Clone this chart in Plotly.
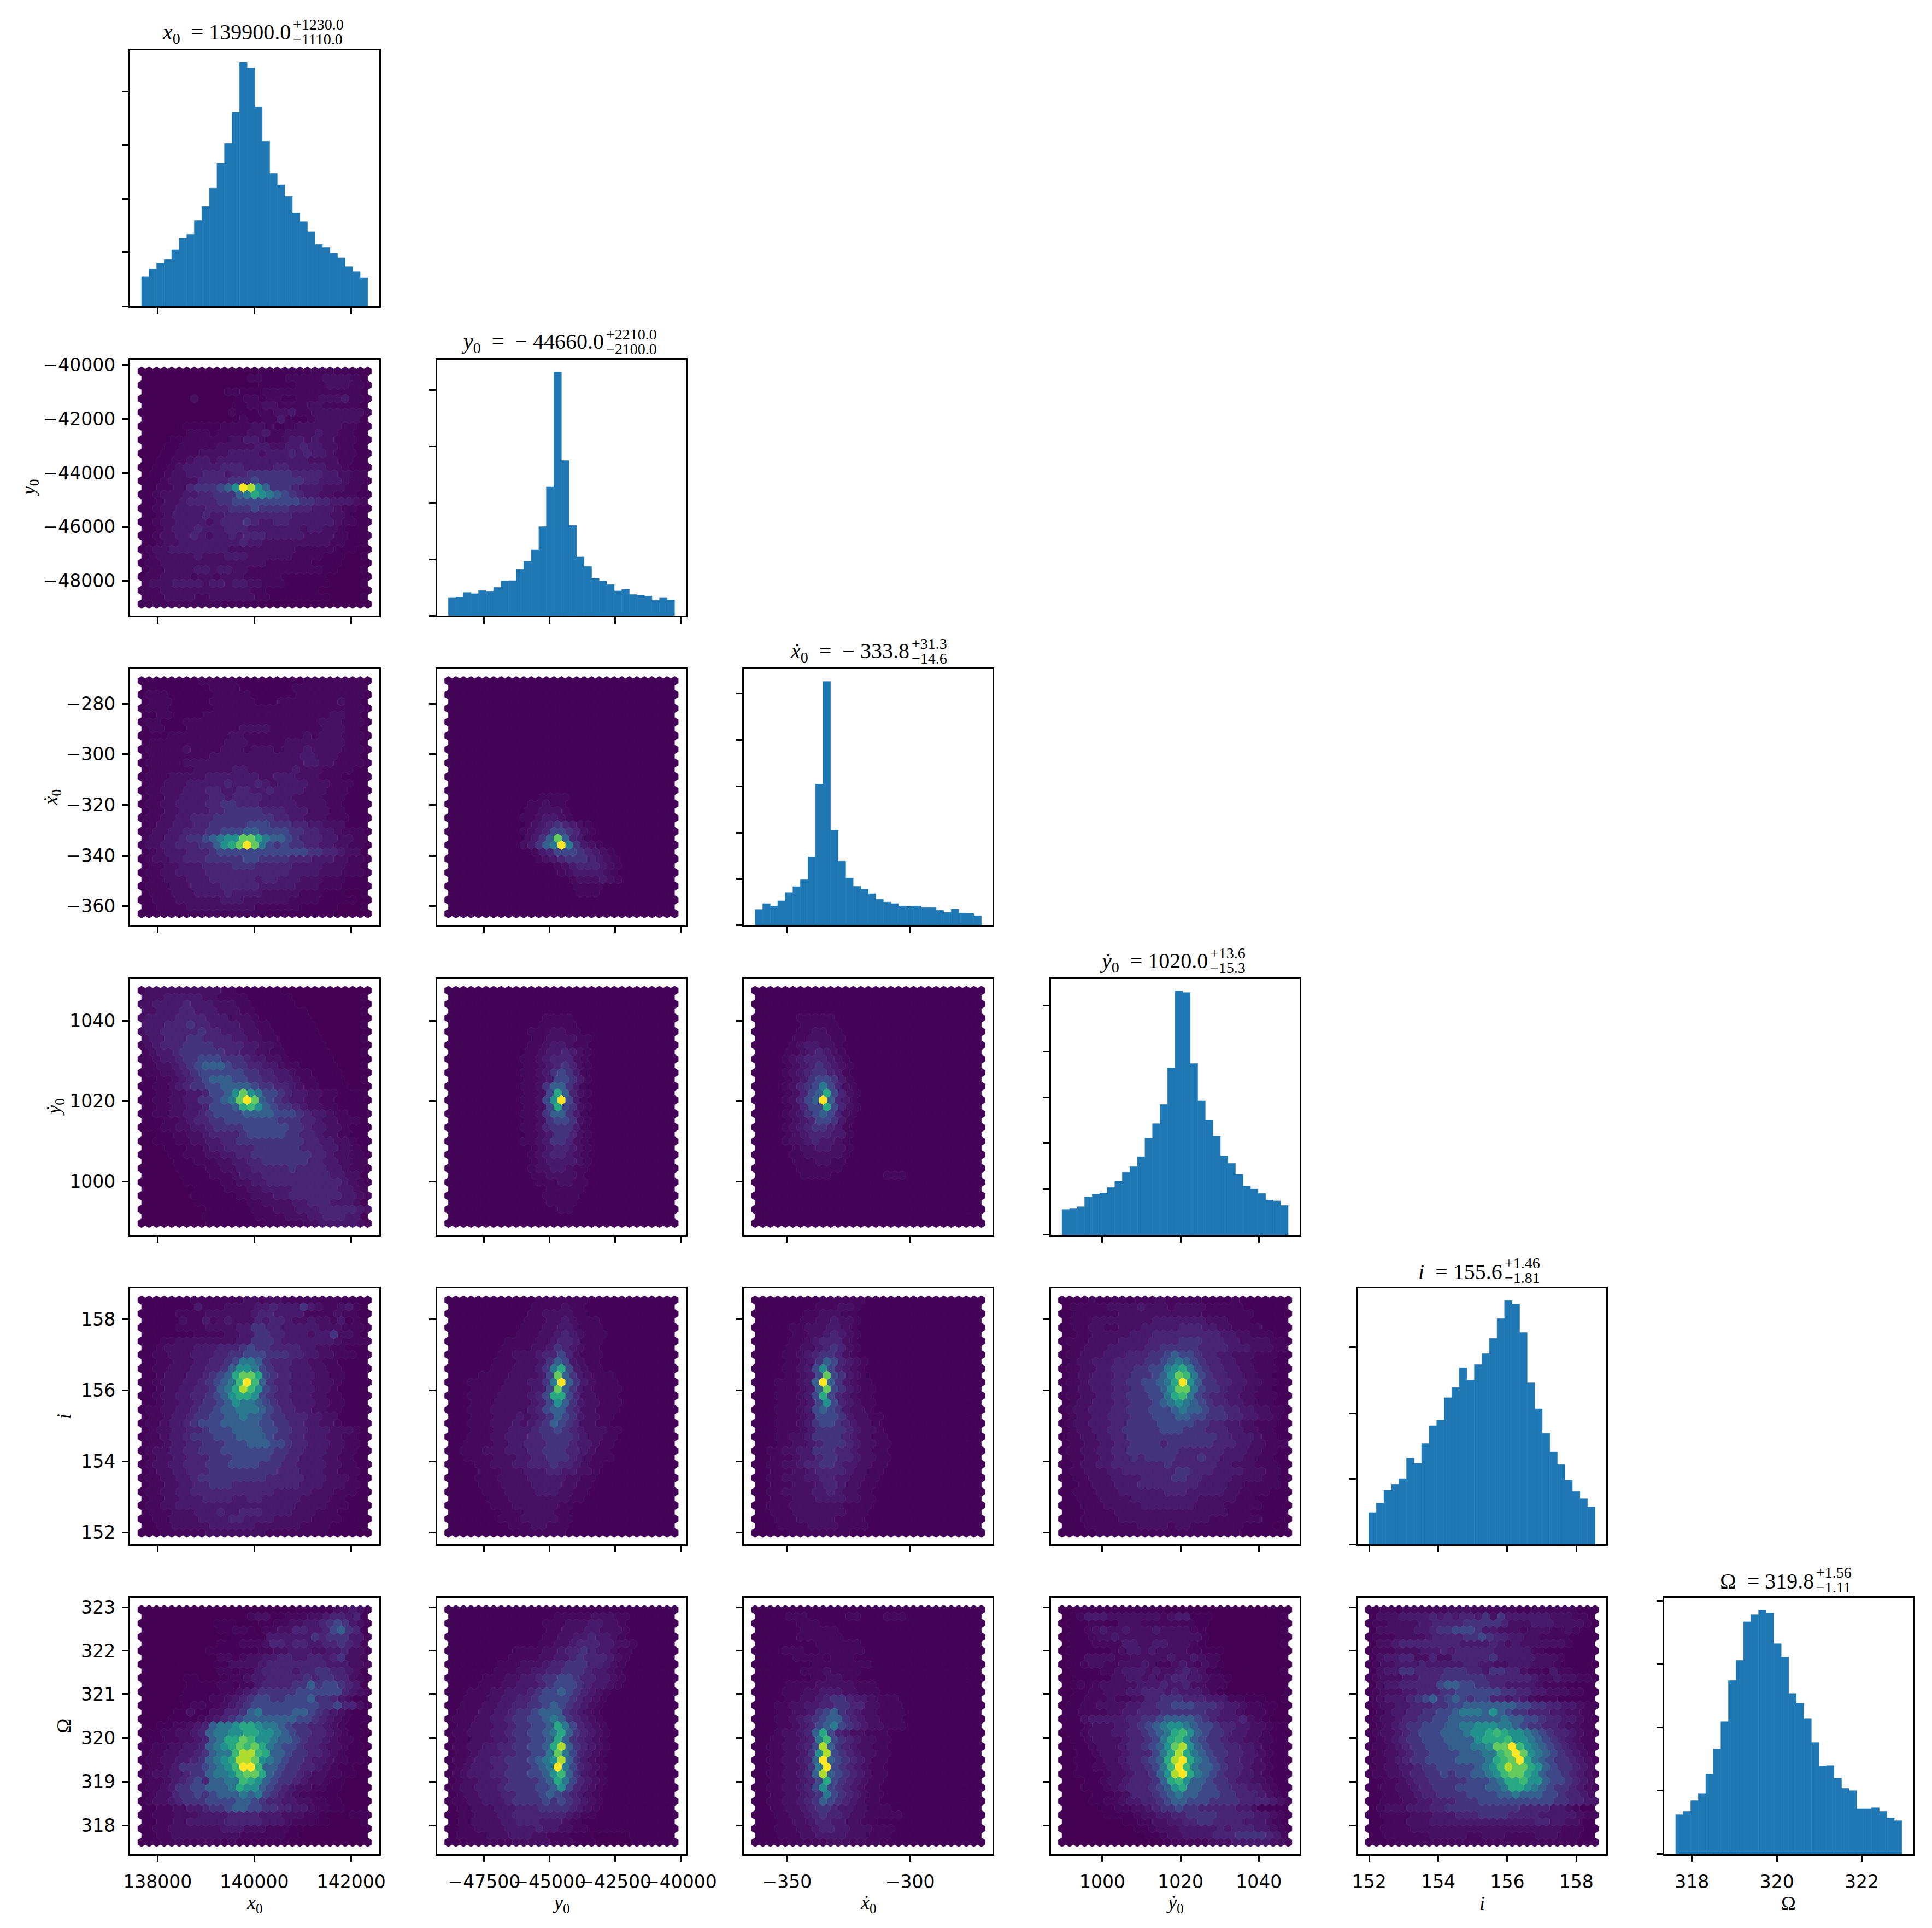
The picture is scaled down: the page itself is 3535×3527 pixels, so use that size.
import plotly.graph_objects as go
from plotly.colors import sample_colorscale

W, H = 3535, 3527
PARAMS = ["x0", "y0", "xd", "yd", "i", "om"]
AXIS_RANGE = {"x0": [137435, 142573], "y0": [-49297, -39804], "xd": [-367.5, -266.45],
              "yd": [986.8, 1050.4], "i": [151.66, 158.87], "om": [317.35, 323.21]}
X_TICKS = {"x0": [138000, 140000, 142000], "y0": [-47500, -45000, -42500, -40000], "xd": [-350, -300],
           "yd": [1000, 1020, 1040], "i": [152, 154, 156, 158], "om": [318, 320, 322]}
Y_TICKS = {"y0": [-48000, -46000, -44000, -42000, -40000], "xd": [-360, -340, -320, -300, -280],
           "yd": [1000, 1020, 1040], "i": [152, 154, 156, 158], "om": [318, 319, 320, 321, 322, 323]}
LABELS = {"x0": "<i>x</i><sub>0</sub>", "y0": "<i>y</i><sub>0</sub>", "xd": "<i>ẋ</i><sub>0</sub>",
          "yd": "<i>ẏ</i><sub>0</sub>", "i": "<i>i</i>", "om": "Ω"}
YLABEL_X = {"y0": 54, "xd": 95, "yd": 101, "i": 117, "om": 117}
TITLE_MAIN = {"x0": "<i>x</i><sub>0</sub>\u2002= 139900.0", "y0": "<i>y</i><sub>0</sub>\u2002=\u2002− 44660.0",
              "xd": "<i>ẋ</i><sub>0</sub>\u2002=\u2002− 333.8", "yd": "<i>ẏ</i><sub>0</sub>\u2002= 1020.0",
              "i": "<i>i</i>\u2002= 155.6", "om": "Ω\u2002= 319.8"}
TITLE_UP = {"x0": "+1230.0", "y0": "+2210.0", "xd": "+31.3", "yd": "+13.6", "i": "+1.46", "om": "+1.56"}
TITLE_DN = {"x0": "−1110.0", "y0": "−2100.0", "xd": "−14.6", "yd": "−15.3", "i": "−1.81", "om": "−1.11"}
TITLE_MAIN_W = {"x0": 235, "y0": 256, "xd": 222, "yd": 193, "i": 149, "om": 164}
TITLE_UP_W = {"x0": 100, "y0": 99, "xd": 70, "yd": 71, "i": 72, "om": 70}

HIST_x0 = [552, 690, 797, 874, 1050, 1264, 1341, 1594, 1862, 2199, 2659, 3034, 3617, 4544, 4437, 3716, 3073, 2475, 2261, 2046, 1739, 1571, 1387, 1149, 1096, 989, 897, 736, 644, 529]
HIST_y0 = [314, 328, 412, 391, 447, 426, 503, 615, 622, 824, 964, 1166, 1578, 2291, 4323, 2751, 1599, 1041, 873, 663, 615, 552, 440, 468, 377, 363, 349, 272, 314, 279]
HIST_xd = [340, 467, 416, 526, 705, 832, 993, 1477, 3048, 5263, 2054, 1384, 1019, 840, 781, 679, 560, 501, 467, 416, 407, 416, 382, 382, 323, 280, 348, 263, 255, 204]
HIST_yd = [550, 576, 610, 825, 885, 911, 1031, 1168, 1366, 1495, 1701, 2113, 2423, 2844, 3643, 5318, 5284, 3737, 2921, 2509, 2148, 1718, 1555, 1323, 1065, 997, 902, 756, 739, 636]
HIST_i = [485, 629, 826, 916, 1000, 1311, 1234, 1539, 1808, 1892, 2234, 2389, 2689, 2503, 2737, 2904, 3138, 3437, 3713, 3659, 3228, 2461, 2066, 1689, 1407, 1216, 976, 808, 695, 569]
HIST_om = [621, 673, 846, 956, 1261, 1658, 2088, 2739, 3059, 3669, 3783, 3853, 3809, 3324, 3110, 2529, 2382, 2140, 1761, 1390, 1397, 1199, 1037, 1000, 713, 713, 732, 673, 570, 526]
HISTS = {"x0": HIST_x0, "y0": HIST_y0, "xd": HIST_xd, "yd": HIST_yd, "i": HIST_i, "om": HIST_om}
HIST_TICKS = {"x0": [0, 1000, 2000, 3000, 4000], "y0": [0, 1000, 2000, 3000, 4000],
              "xd": [0, 1000, 2000, 3000, 4000, 5000], "yd": [0, 1000, 2000, 3000, 4000, 5000],
              "i": [0, 1000, 2000, 3000], "om": [0, 1000, 2000, 3000, 4000]}

# hexbin cell levels, top row first; rows alternate 31 and 30 cells; one hex digit per cell (spaces only group columns)
LEVEL_VALUE = [0, .012, .025, .045, .07, .1, .15, .22, .3, .4, .5, .6, .68, .76, .88, 1]

HEX_y0_x0 = ["0000000000000000111111122211110","000000000000002211122222333321","0000000000000000111112222333221","000000000002211122222222222221","0000000300000122122112223334221","00000000000011223322223322222","0000000000002111223342233333331","00000000000012112242112333333","0000001111122223321223333332211","000000222122223342233334332211","0000112222223344322344343322211","00011222223333344334454433221","0001122233334444344454544322211","001122344344444444444433332211","0011234444455544445544444332111","011233445554556666665555443322","0112333355556667666666554443221","112233566678afea86665444333221","112333445566689ba98765443322211","112334555566777777777665544432","1123344445556667666655544432211","112344445445555555554444433211","1123344443455565445544444432211","11234445444555444444434433211","1123344543445455544444333322111","11233444444445443333333332211","1233444444443333333332222211100","12333334333444333333222211100","1223333333333333322222211110000","12233334434433222222222211000","1223333233233322222111111000000","23334444344344332221111110000","2223333333333332211111110000000","22233332233333322111111110000","1122222222211111000000000000000"]
PEAK_y0_x0 = []

HEX_xd_x0 = ["1111111122222111111111222222221","111111111222211111112222222222","1222111111222221111112222222221","12221111122222211122222222322","1222111111222222222222222222221","11221111222222222222222223322","1221112222222222222222223332221","12211122222223333222222233322","1111222222223322222222323332221","12222222222333222223333333322","1222223222233323332333433332221","12222222233333333333344333222","1222223333333333333333443322221","12222 22333 33443 33333 43332 222","12223 33334 44444 43344 43332 2211","12233 34444 45444 54344 44333 222","12233 34445 54455 44544 44333 2221","12233 44445 54555 54444 33332 221","12233 44445 56655 54444 43333 2211","12233 44445 56666 65554 44333 221","12233 44555 66666 66655 44333 2221","12334 44556 66667 77666 55443 33","12334 45556 67778 87777 66554 43222","233445556677788888776655443322","2334455566778888877766554433221","12344455567777777777776655433","1233445556666677666655544433221","12233444555566655555444433322","1223344445555555555544443332221","12233344455555545544433322211","1222333444455555444443332221111","12223334444544443333322211100","1122233333344433333322221111100","11222233333333322222211111000","1112222222222222211111111100000"]
PEAK_xd_x0 = [(23, 5, "566789aaddb988765"), (24, 8, "668abdfd976")]

HEX_xd_y0 = ["", "", "", "", "", "", "", "", "", "", "", "", "", "", "", "", "", "11111 11111 11222 21", "11111 11111 12232 21", "11111 11111 22333 21", "11111 11111 22344 32 1", "11111 11111 23456 54 321", "11111 11111 23457 76 532", "11111 11111 2468d 85 42", "11111 11111 23468 9f 9642", "11111 11111 12457 77 654321", "11111 11111 11234 56 66 54321", "11111 11111 11112 34 55 5432", "11111 11111 11111 23 44 44321", "11111 11111 11111 12 33 3432", "11111 11111 11111 11 22 22", "11111 11111 11111 11 22 21", "", "", ""]
PEAK_xd_y0 = [(23, 10, "3468d8542"), (24, 10, "34689f9643")]

HEX_yd_x0 = ["2333333333322111111000000000000","33344444332222111111000000000","3344445444333221111110000000000","33444554443332211111110000000","3444455554443332111111100000000","44455565544443322111111000000","3445555565544433221111110000000","34455566555544332211111100000","2345556666555544332111111000000","23445666666554433221111110000","2234456677766654433211111100000","22334567888766554432211111000","1223345677777766554432211110000","11223456788877665544322111100","1122345667788887665543221111000","112233445778ada977654433221111","1122334466789dfd8765443322111100","1122334457778bca87665433221111","1122334456777788887776544322111","11122345566777777766655433222111","0112233445666677777766544332111","0011223345555677777665543322111","0011122334455666666666554433211","00011122344555566666655544332","0000112223344556666666655433221","000011122233445566666655443322","0000011112233445555565555443221","00000111122234445555555554433","0000001111122334455555555554321","000000011112223344445555554432","0000000111111223334455555554432","00000001111111223333445554443","0000000001111112223334445555543","00000000111111122223334455544","0000000001111111122222334444432"]
PEAK_yd_x0 = []

HEX_yd_y0 = ["", "", "", "", "11111 11111 11122 22111", "11111 11111 11222 22111", "11111 11111 12223 32211", "11111 11111 12233 33221", "11111 11111 12234 43221", "11111 11111 22344 54321", "11111 11111 22345 55321", "11111 11111 22345 65321", "11111 11111 22346 76421", "11111 11111 22347 76421", "11111 11111 22368 86421", "11111 11111 2237b 85321", "11111 11111 2237a f7421", "11111 11111 2237b 76321", "11111 11111 22368 86421", "11111 11111 22367 76321", "11111 11111 22356 66421", "11111 11111 22346 65321", "11111 11111 22346 65321", "11111 11111 12345 54321", "11111 11111 12345 54321", "11111 11111 12344 44321", "11111 11111 12334 43221", "11111 11111 12233 33211", "11111 11111 11222 33221", "11111 11111 11122 22211", "11111 11111 11122 22211", "11111 11111 11122 22111", "11111 11111 11111 22111", "", ""]
PEAK_yd_y0 = []

HEX_yd_xd = ["", "", "", "", "11111 12222 21111", "11111 12222 21111", "11111 12233 22111", "11111 22333 22111", "11111 23443 32111", "11112 23454 32111", "11112 34555 43211", "11112 34565 43211", "11112 34566 54211", "11112 34677 64211", "11112 35679 75321", "11112 3578b 75321", "11112 3578f 85421", "11112 3577b 75321", "11112 34678 75321", "11112 34577 64211", "11112 34566 54211", "11112 34555 44211", "11112 33454 43211", "11111 23344 33211", "11111 22333 33211", "11111 22233 22111", "11111 12222 22111", "11111 12222 11111 11222 11", "", "", "", "", "", "", ""]
PEAK_yd_xd = []

HEX_i_x0 = ["1111111222222233233222222221111","111111142223333445444643223421","1111122223333334554444222232211","11111322423433354554334332412","1111122223333446655444443332221","111111122223344665544434463321","1112233333333446665444444432222","11233 33444 55567 66555 54433 22","11223 33444 55667 77666 55443 32221","11223 33445 56799 86555 44332 2","11223 33445 568aa 97655 44433 221","11233 34456 78bdd b7655 44433 22","11233 34456 789cf c8655 44433 321","11233 44556 89bec a7655 44433 21","11233 44556 78abb a7655 44433 221","11233 44566 78a99 87655 44433 22","12233 44566 78899 98765 54433 221","12234 45667 78898 87665 55443 3","12234 45677 78888 87766 55443 321","123344556777888877665544433321","1223445666777888876655444332211","122344556667778887765544433221","1233445566677777776655444332211","12334455566677777665544433221","1233445556667777666554444332211","12334455566666666655544433222","1223344566666666655555444333211","12233445566655555555544433322","1223344555555555554444433322211","12233444555544554444433332211","1223344444444444444443333222111","12223334445445554444333222111","1122333344445544443333322221110","11223333344444433333322221111","1112222223333333322222222111100"]
PEAK_i_x0 = []

HEX_i_y0 = ["11111 11111 11222 22221 11111","11111 11111 12222 32211 11111","11111 11111 12233 33221 11111","11111 11111 22233 43222 11111","11111 11111 22233 44322 21111","11111 11112 22334 54322 21111","11111 11122 22334 55422 21111","11111 11222 23346 54322 11111","11111 11223 33455 75322 21111","11111 12223 33468 74322 11111","11111 12223 33469 b7432 21111","11112 22233 3347d 86432 22111","11122 22233 34469 f8643 22211","11122 22333 3447d 86432 22211","11122 22333 3457b b7533 22211","11122 23333 3457a 86433 22211","11122 23333 34578 86533 22211","11122 23334 34568 76433 22111","11122 23334 34568 76533 22111","11122 23344 45667 65433 32211","11122 23344 45566 66543 32211","11222 23344 55566 65443 22111","11222 33344 45566 65543 22111","11222 23334 45566 65432 22111","11112 23334 45556 55432 21111","11112 22333 44455 44332 11111","11112 22333 34444 43322 11111","11112 22333 34444 33221 11111","11111 22233 33444 33221 11111","11111 22233 33333 32211 11111","11111 12223 33333 22111 11111","11111 11222 33332 21111 11111","11111 11222 33333 22111 11111","11111 11122 23322 21111 11111","11111 11111 22222 21111 11111"]
PEAK_i_y0 = []

HEX_i_xd = ["11111 11112 22222 11111","11111 11122 23321 11111","11111 11223 33221 11111","11111 12233 43321 11111","11111 22333 44321 11111","11111 22334 54321 11111","11111 22345 55321 11111","11112 23345 65321 11111","11112 23456 65321 11111","11112 23468 75432 11111","11112 2347a 75432 11111","11112 2347d 76432 11111","11122 2348f 86432 21111","11122 2348d 76432 21111","11122 2347b 75432 21111","11122 2347a 75432 21111","11122 23478 76433 21111","11122 23477 76433 22111","11122 23467 76543 32111","11122 23466 66543 32111","11122 33466 66543 32211","11122 33456 66543 32211","11223 34466 65543 32211","11222 34456 65543 32211","11223 34556 65443 32211","11222 33455 55433 22111","11223 33445 54433 22111","11222 33345 54332 21111","11223 33344 54332 21111","11222 33344 44332 21111","11222 33333 33222 21111","11222 33333 33222 11111","11122 23333 32222 11111","11122 22333 32222 11111","11111 22222 22211 11111"]
PEAK_i_xd = []

HEX_i_yd = ["1111211221222322222111121111111","12222233334333233332222211111","1122222233333333333222222211110","12223333333344444443332221111","1122332233344444555443322221111","112233333444555555555443322211","1222333344445555666555443333221","122333444445566666555544433322","1223334445"+"556678776554433322211","1233444555"+"56678987655443322211","1223344555"+"66779ab97655443322211","1233444556"+"6678adc9765544332211","1223444556"+"67789bfa8665544332211","1233444556"+"6778add9766544332211","1223344556"+"66779bc97655443322211","1233444556"+"66789a98765544332211","1233444556"+"667778988766554433221","12334455566677788776665544332","1233444556666777776655443322211","12334455666667776665554433221","1223344556666666666665544432211","1223344556666566666655544332221","1223344556666666555555444332211","12233445565666655565544433221","1123344555555565555554433322211","12233344555555566555444433322","1122333444455556655444433332211","11223334445555555544443322222","1122233344444455544444332222111","11222333344444444433333222111","1112223333344444443333222221110","11122223333333333333332221111","1112222233333333333322222221110","11122222223333233222222211110","1111122222222222222222221111111"]
PEAK_i_yd = []

HEX_om_x0 = ["0000000000000000000001111133431","00000000000000233112223345545","0000000000111000112233445676431","00000000001122102233554457865","0000000000001111144444465666441","000000000011122235545544556542","0000000001111111223344433445331","000000000022123344554455456332","0000000000113333455555555444332","00000000002212245555455665543","0000001100012234455555656655321","00000011112212245555668677654","0000001111122345666667777775432","00000111122345677667778665 43","000000122123456777777777667553","00001 13113 35568 97777 88765 43210","00001 11123 45678 88888 87765 43211","001122345"+"899abba998766554"+"32110","011223345"+"899aabbaa987665"+"5432110","011223345"+"89bbdcaa98876554"+"32210","112233445"+"89abdcdb9877655"+"4332110","122334456"+"899ceecb8876655"+"432110","122334456"+"89abeeda987665"+"44322110","122346667"+"89acffc8876655"+"4321100","123344566"+"899acddb876654"+"33221100","122345675"+"8899cba876654"+"33211000","122346677"+"8889baa87654"+"3322110000","123356676"+"78889897654"+"3221110000","123345666"+"7777887655443"+"322110000","1122334456678877665544322110000","1122233344445555444333221000","11223344444555554443222110000","1122333333344433322211000000000","112233333333322222211000000000","1112222222212111111100000000000"]
PEAK_om_x0 = []

HEX_om_y0 = ["","11111 11111 11112 22223 33221 1","11111 11111 11122 23334 43321 1","11111 11111 11122 33344 33321","11111 11111 11122 33445 44321 1","11111 11111 11223 34555 44332","11111 11112 22233 45565 44322","11111 11122 22334 45655 54321","11111 11222 33345 56665 54321","11111 12223 34455 66654 43211","11111 22233 44566 77655 44321","11112 22334 44567 77654 43211","11122 23344 45677 87654 32111","11222 33445 56777 76543 21111","11222 33445 56678 76543 21111","12223 34456 67888 65432 1111","12223 34456 67789 86543 21111","12233 34456 6778b 97543 2111","12233 34456 67789 b8654 32111","12233 34456 6778b 86543 2111","12233 44556 6778b e8654 32111","12234 44556 6779d 97543 2111","12234 45566 6789a e8643 21111","12344 45566 6789f 97543 2111","12344 45566 6778a c8643 21111","12334 44566 6678b 97543 2111","12334 44566 66778 a7543 21111","12334 44556 66787 65432 1111","12233 44456 66676 76543 21111","12233 34445 55666 65432 1111","11223 33445 55555 54322 11111","12233 33445 55444 32211 1111","11223 33344 44544 33221 11111","12222 33344 43322 21110 0000","11122 22223 33332 22111 00000"]
PEAK_om_y0 = []

HEX_om_xd = ["","11112 22111 11221 11222 11111","11111 12221 11111 11111","11111 12222 21111 11111","11111 12222 22111 11111","11111 11122 22221 11111","11112 22112 22222 11111","11111 22221 22211 11111","11111 11122 22222 21111","11111 12223 22221 11111","11111 11122 33221 11111","11112 22233 33322 21111","11112 22334 44332 22111","11112 23345 66544 32221","11122 33445 56655 33222","11122 33467 86543 32222","11122 34567 88654 33222","11122 34578 97654 33222","11123 3458b 75433 22211","11223 3459c 76543 32211","11223 3457e 86543 32211","11223 346ae 76543 32211","11223 3458f 87654 32211","11223 3469f 76543 22111","11223 3458e 87654 32211","11223 3457b 76543 22111","11223 3457a 76543 22111","11223 34569 76543 22111","11223 34568 76543 22111","11223 34566 54433 22211","11122 33456 55433 22222 11","11122 33455 44332 21111","11122 23345 54433 32221","11122 23344 44333 22211","11111 22222 33322 22111"]
PEAK_om_xd = []

HEX_om_yd = ["0011111111111100000000000000000","01244433333332344111000000000","0111221133322222221100000000000","01123433433343333210000000000","0111233433333333333100000000000","01112222443344333210000000000","0111111234434333322111000000000","0113333223333343343220000000000","0112332233343223432321000000000","01111223444343345431100000000","0011111334434345544322100000000","0121233333444544533222000000000","001122333445554544432100000000","01122232233556665554442211100","0112233334455667776665443221100","112222334455566666655443222100","0113444445566788887654445321000","1112333445"+"6789aa98776554433211","0112333445"+"56789bca8766544332110","0112333345"+"5679bca8766544332211","0011233345"+"5678adea8766554432110","0011233345"+"5579beb9876655443211","0011123345"+"5678befb9876554432110","0011223345"+"5679cfc9887655433211","0011112334"+"5568aefb9876554432111","0001123345"+"5568bca8876654433211","0001112345"+"55678ab88776655443211","0000111235"+"55678988777665554321","0000112234"+"455678877766665555432","00000112233456676655555443","0000001111233445566665555544321","00000000112233445566555544432","0000000000112333444445455544321","000000000001123344445556666542","0000000000000012222233344444332"]
PEAK_om_yd = []

HEX_om_i = ["1122122222233322222211222222111","13334444545455463644444433322","1223333445555666665333444333321","13333344566777644333233322321","1222333345555667655443322221111","133455555555444454343333332","1222333444545555544444221111111","13445533533555556444443332111","1233444544444554433444333211110","134466555566655466553221422","1233344555666666555555433433221","13445555578877665544443222","1233344555667777776655443332211","2344456786787677554543222","1233445556677888888877665544322","1234455667"+"789998a8766555443322","1233455667"+"788888889887765544321","1234566777"+"8899aaa9987665543322","1233456777"+"8889aabcbaa9876554321","1234566777"+"8888abbbcaa987654322","1223456677"+"788899addfca987654322","1233456677"+"7788899cdfda98765432","1223456677"+"7788889bcdfb987665432","1233445667"+"777789aceddba8766543","1223345566"+"7677889acddba87765432","1122345566"+"66677789bbcaa8776543","1122334556"+"667777889bba987665432","1122334556"+"66677778898887765543","1122233445"+"556667777777777665544","1233344455666666666655554432","1122223334445556666555544444322","1122233344444444444444554433","1122223333333333333333333322211","1122222233333223332222333222","1111222222222222222222222222111"]
PEAK_om_i = []

HEXBINS = {("y0", "x0"): (HEX_y0_x0, PEAK_y0_x0), ("xd", "x0"): (HEX_xd_x0, PEAK_xd_x0), ("xd", "y0"): (HEX_xd_y0, PEAK_xd_y0),
           ("yd", "x0"): (HEX_yd_x0, PEAK_yd_x0), ("yd", "y0"): (HEX_yd_y0, PEAK_yd_y0), ("yd", "xd"): (HEX_yd_xd, PEAK_yd_xd),
           ("i", "x0"): (HEX_i_x0, PEAK_i_x0), ("i", "y0"): (HEX_i_y0, PEAK_i_y0), ("i", "xd"): (HEX_i_xd, PEAK_i_xd), ("i", "yd"): (HEX_i_yd, PEAK_i_yd),
           ("om", "x0"): (HEX_om_x0, PEAK_om_x0), ("om", "y0"): (HEX_om_y0, PEAK_om_y0), ("om", "xd"): (HEX_om_xd, PEAK_om_xd),
           ("om", "yd"): (HEX_om_yd, PEAK_om_yd), ("om", "i"): (HEX_om_i, PEAK_om_i)}

LEFT0, STEPX, PW = 238.3, 561.4, 455.2
TOP0, STEPY, PH = 91.8, 566.3, 468.2
COLORS = sample_colorscale("Viridis", LEVEL_VALUE)
BLUE = "#1f77b4"
TICKFONT = dict(family="DejaVu Sans", size=33, color="black")
SERIF = "Liberation Serif"


def data_lim(p):
    lo, hi = AXIS_RANGE[p]
    m = (hi - lo) / 22
    return lo + m, hi - m


def hex_traces(rows, peaks, px, py, xa, ya):
    xlo, xhi = data_lim(px)
    ylo, yhi = data_lim(py)
    sx, sy = (xhi - xlo) / 30, (yhi - ylo) / 17
    grid = []
    for r in range(35):
        n = 30 if r % 2 else 31
        row = rows[r].replace(" ", "") if r < len(rows) else ""
        grid.append(list(row.ljust(n, "1")[:n]))
    for r, c, s in peaks:
        for k, ch in enumerate(s):
            if c + k < len(grid[r]):
                grid[r][c + k] = ch
    pts = {}
    ox = [.5, .5, 0, -.5, -.5, 0, .5]
    oy = [-.5 / 3, .5 / 3, 1 / 3, .5 / 3, -.5 / 3, -1 / 3, -.5 / 3]
    for r in range(35):
        cy = yhi - r * sy / 2
        for c, ch in enumerate(grid[r]):
            cx = xlo + (c + (0.5 if r % 2 else 0)) * sx
            bx, by = pts.setdefault(int(ch, 16), ([], []))
            bx.extend([cx + a * sx for a in ox] + [None])
            by.extend([cy + b * sy for b in oy] + [None])
    out = []
    for lv, (bx, by) in sorted(pts.items()):
        out.append(go.Scatter(x=bx, y=by, mode="lines", fill="toself", fillcolor=COLORS[lv],
                              line=dict(color=COLORS[lv], width=0.6), hoverinfo="skip",
                              showlegend=False, xaxis=xa, yaxis=ya))
    return out


fig = go.Figure()
layout = dict(width=W, height=H, margin=dict(l=0, r=0, t=0, b=0, autoexpand=False), autosize=False,
              paper_bgcolor="white", plot_bgcolor="white", showlegend=False)
annots = []
n = 0


def text(x, y, s, size, xanchor="center", yanchor="middle", angle=0):
    annots.append(dict(x=x / W, y=1 - y / H, xref="paper", yref="paper", text=s, showarrow=False,
                       font=dict(family=SERIF, size=size, color="black"), xanchor=xanchor, yanchor=yanchor,
                       textangle=angle, borderpad=0))


for ri, py in enumerate(PARAMS):
    for ci, px in enumerate(PARAMS[:ri + 1]):
        n += 1
        xa, ya = f"x{n}", f"y{n}"
        l = LEFT0 + ci * STEPX
        t = TOP0 + ri * STEPY
        common = dict(showgrid=False, zeroline=False, showline=True, mirror=True, linecolor="black", linewidth=2.7,
                      ticks="outside", ticklen=11.7, tickwidth=2.7, tickcolor="black", tickfont=TICKFONT)
        last = ri == 5
        xaxis = dict(common, domain=[l / W, (l + PW) / W], range=AXIS_RANGE[px], anchor=ya, tickmode="array",
                     tickvals=X_TICKS[px], ticktext=[str(v).replace("-", "−") for v in X_TICKS[px]],
                     showticklabels=last, tickangle=0, ticklabelstandoff=8)
        if ri == ci:
            vals = HISTS[px]
            xlo, xhi = data_lim(px)
            w = (xhi - xlo) / 30
            fig.add_trace(go.Bar(x=[xlo + (k + .5) * w for k in range(30)], y=vals, width=w,
                                 marker=dict(color=BLUE, line=dict(width=0.6, color=BLUE)),
                                 hoverinfo="skip", showlegend=False, xaxis=xa, yaxis=ya))
            yaxis = dict(common, domain=[1 - (t + PH) / H, 1 - t / H], range=[0, max(vals) * 1.05], anchor=xa,
                         tickmode="array", tickvals=HIST_TICKS[px], showticklabels=False)
            cx = l + PW / 2
            mw, uw = TITLE_MAIN_W[px], TITLE_UP_W[px]
            x0 = cx - (mw + uw) / 2
            text(x0 + mw, t - 31, TITLE_MAIN[px], 40, xanchor="right")
            text(x0 + mw + 2, t - 47, TITLE_UP[px], 28, xanchor="left")
            text(x0 + mw + 2, t - 20, TITLE_DN[px], 28, xanchor="left")
        else:
            rows, peaks = HEXBINS[(py, px)]
            fig.add_traces(hex_traces(rows, peaks, px, py, xa, ya))
            yaxis = dict(common, domain=[1 - (t + PH) / H, 1 - t / H], range=AXIS_RANGE[py], anchor=xa,
                         tickmode="array", tickvals=Y_TICKS[py], ticktext=[str(v).replace("-", "−") for v in Y_TICKS[py]],
                         showticklabels=ci == 0, ticklabelstandoff=6)
            if ci == 0:
                text(YLABEL_X[py], t + PH / 2, LABELS[py], 36, angle=-90)
        if last:
            text(l + PW / 2, 3482, LABELS[px], 36)
        layout[f"xaxis{n}"] = xaxis
        layout[f"yaxis{n}"] = yaxis

layout["annotations"] = annots
fig.update_layout(**layout)
fig.write_html("out.html", config={"displayModeBar": False}, post_script="document.body.style.margin='0';")
